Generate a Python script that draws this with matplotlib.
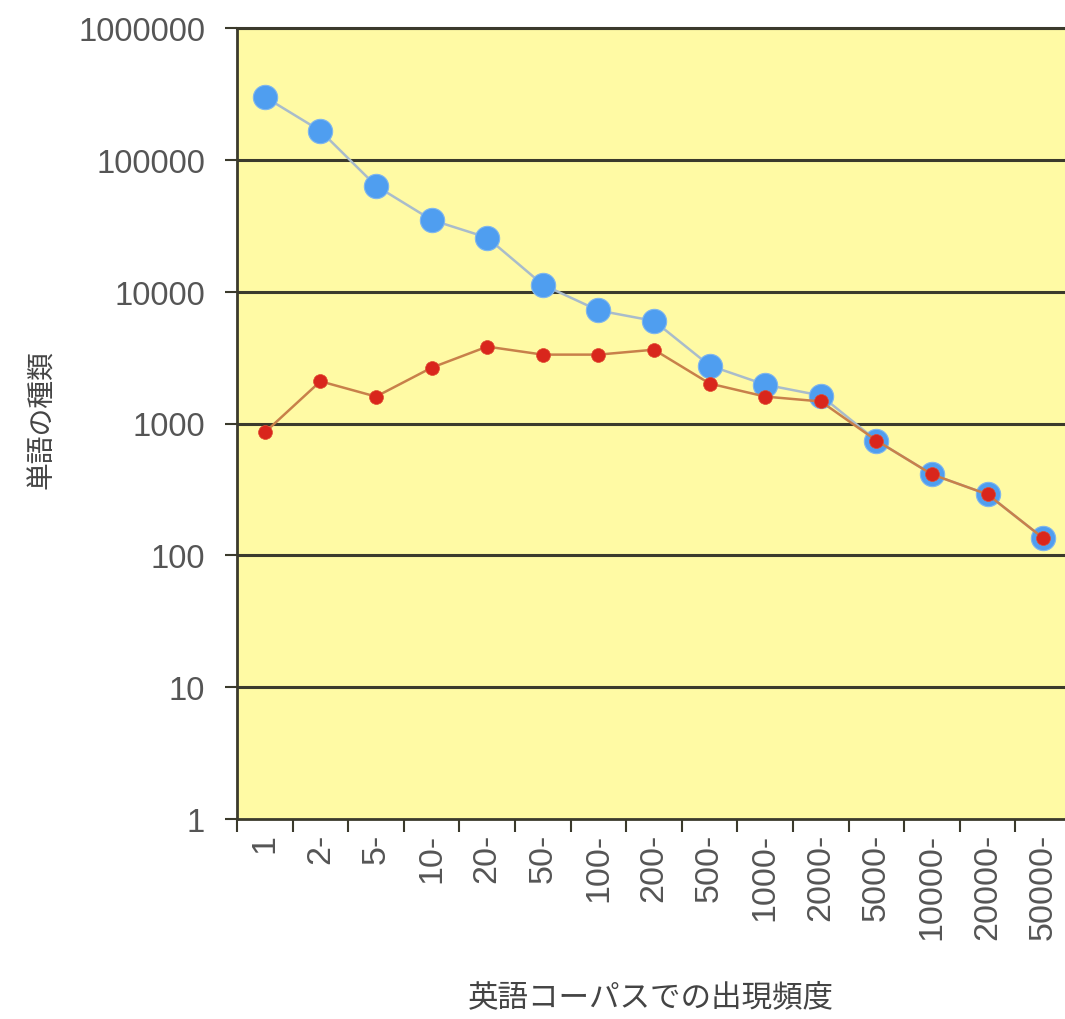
import matplotlib
matplotlib.use("Agg")
import matplotlib.pyplot as plt
from matplotlib.ticker import FixedLocator, NullFormatter
import numpy as np

categories = ["1", "2-", "5-", "10-", "20-", "50-", "100-", "200-", "500-",
              "1000-", "2000-", "5000-", "10000-", "20000-", "50000-"]
all_words = [300000, 166000, 63500, 35000, 25700, 11300, 7200, 6000, 2750,
             1970, 1630, 743, 411, 290, 135]
known_words = [855, 2090, 1600, 2650, 3830, 3330, 3330, 3630, 2010,
               1600, 1470, 743, 411, 290, 135]
ytick_values = [1, 10, 100, 1000, 10000, 100000, 1000000]
ytick_labels = ["1", "10", "100", "1000", "10000", "100000", "1000000"]
xlabel = "英語コーパスでの出現頻度"
ylabel = "単語の種類"

plt.rcParams['font.family'] = ['Liberation Sans', 'DejaVu Sans']
cjk = ['Noto Sans CJK JP', 'DejaVu Sans']

W, H = 1065, 1020
fig = plt.figure(figsize=(W / 100, H / 100), dpi=100)
fig.patch.set_facecolor("white")
left, right, top, bottom = 237, 1071, 29, 820
ax = fig.add_axes([left / W, 1 - bottom / H, (right - left) / W, (bottom - top) / H])
ax.set_facecolor("#fffaa4")

x = np.arange(len(categories))
ax.set_yscale("log")
ax.set_ylim(1, 1000000)
ax.set_xlim(-0.5, len(categories) - 0.5)

grid_color = "#3b3a2c"
for v in ytick_values[1:]:
    ax.axhline(v, color=grid_color, lw=2.2, zorder=1)

ax.plot(x, all_words, color="#a9bccb", lw=1.8, zorder=2,
        marker="o", markersize=17.5, markerfacecolor="#4f9ef0",
        markeredgecolor="#7fb6ee", markeredgewidth=0.8)
ax.plot(x, known_words, color="#c8804a", lw=1.8, zorder=3,
        marker="o", markersize=10, markerfacecolor="#d9261c",
        markeredgecolor="#e04a30", markeredgewidth=0.5)

ax.yaxis.set_major_locator(FixedLocator(ytick_values))
ax.set_yticklabels(ytick_labels)
ax.yaxis.set_minor_locator(FixedLocator([]))
ax.yaxis.set_minor_formatter(NullFormatter())
ax.tick_params(axis="y", which="major", direction="out", length=9, width=1.5,
               color=grid_color, labelsize=23.5, labelcolor="#555555", pad=14)

ax.set_xticks(x)
ax.set_xticklabels(categories, rotation=90, va="top", ha="center")
ax.set_xticks(np.arange(len(categories) + 1) - 0.5, minor=True)
ax.tick_params(axis="x", which="major", length=0, labelsize=24.5,
               labelcolor="#555555", pad=10)
ax.tick_params(axis="x", which="minor", direction="out", length=9, width=1.5,
               color=grid_color)

for s in ["left", "bottom"]:
    ax.spines[s].set_color(grid_color)
    ax.spines[s].set_linewidth(2)
ax.spines["top"].set_color(grid_color)
ax.spines["top"].set_linewidth(2.2)
ax.spines["right"].set_visible(False)

fig.text(651 / W, 1 - 998 / H, xlabel, ha="center", va="center",
         fontsize=22, color="#444444", family=cjk)
fig.text(42 / W, 1 - 420 / H, ylabel, ha="center", va="center", rotation=90,
         fontsize=20, color="#444444", family=cjk)

fig.savefig("out.png", dpi=100, facecolor="white")
